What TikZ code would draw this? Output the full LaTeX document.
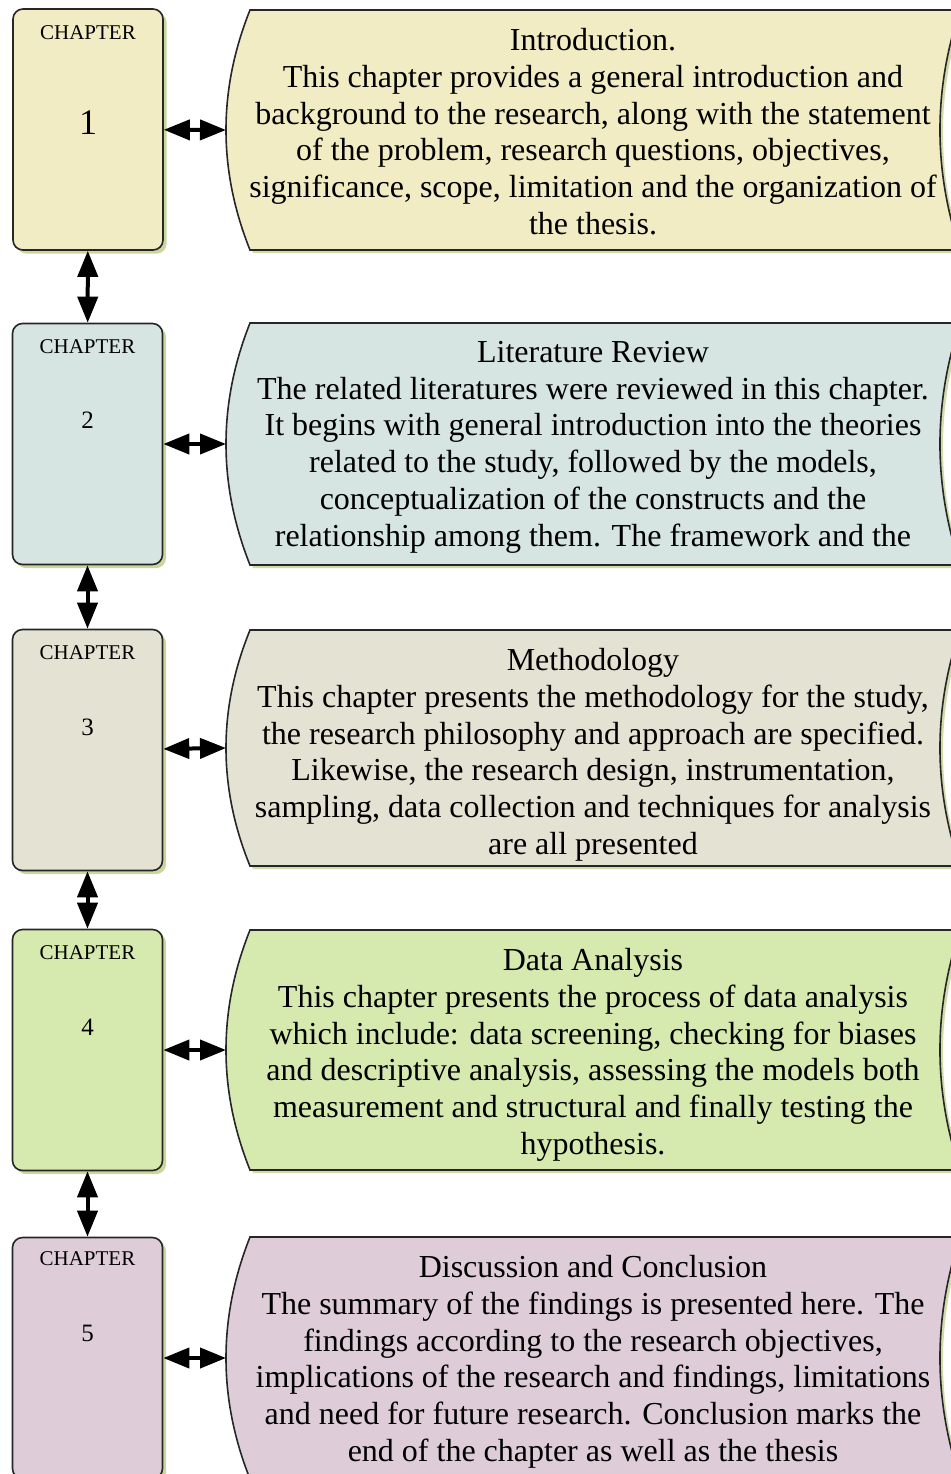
\documentclass[tikz,border=0pt]{standalone}
\usepackage{fontspec}
\setmainfont{Liberation Serif}
\usepackage{xcolor}
\usetikzlibrary{arrows.meta,shadows}

\definecolor{introfill}{HTML}{F2ECC4}
\definecolor{litfill}{HTML}{D6E5E1}
\definecolor{methfill}{HTML}{E4E2D3}
\definecolor{datafill}{HTML}{D6EAAF}
\definecolor{discfill}{HTML}{DECDD9}
\definecolor{shadefill}{HTML}{C3D293}

\begin{document}
\begin{tikzpicture}[
x=0.5pt, y=-0.5pt,
chapter/.style={draw=black!85, line width=0.8pt, rounded corners=5pt, minimum width=75pt, minimum height=120.5pt, drop shadow={shadow xshift=1.8pt, shadow yshift=-1.8pt, fill=shadefill, opacity=0.9}},
summary/.style={draw=black!85, line width=0.8pt, drop shadow={shadow xshift=1.5pt, shadow yshift=-1.5pt, fill=shadefill, opacity=0.8}},
tag/.style={font=\fontsize{10.5pt}{12pt}\selectfont, inner sep=0pt},
num/.style={font=\fontsize{12.5pt}{14pt}\selectfont, inner sep=0pt},
body/.style={anchor=north, align=center, font=\fontsize{16pt}{18.35pt}\selectfont, inner sep=0pt},
arrow/.style={{Triangle[length=13pt 0,width=10pt 0]}-{Triangle[length=13pt 0,width=10pt 0]}, line width=2pt}
]
\useasboundingbox (0,0) rectangle (951,1474);

% chapter boxes
\node[chapter, fill=introfill] (ch1) at (88,129.5) {};
\node[chapter, fill=litfill] (ch2) at (87.5,444) {};
\node[chapter, fill=methfill] (ch3) at (87.5,750) {};
\node[chapter, fill=datafill] (ch4) at (87.5,1050) {};
\node[chapter, fill=discfill] (ch5) at (87.5,1358) {};

\node[tag] (ch1t) at (88,33) {CHAPTER};
\node[num, font=\fontsize{18pt}{20pt}\selectfont] (ch1n) at (88,123) {1};
\node[tag] (ch2t) at (87.5,347) {CHAPTER};
\node[num] (ch2n) at (87.5,420) {2};
\node[tag] (ch3t) at (87.5,653) {CHAPTER};
\node[num] (ch3n) at (87.5,727) {3};
\node[tag] (ch4t) at (87.5,953) {CHAPTER};
\node[num] (ch4n) at (87.5,1027) {4};
\node[tag] (ch5t) at (87.5,1259) {CHAPTER};
\node[num] (ch5n) at (87.5,1333) {5};

% summary shapes
\draw[summary, fill=introfill] (250,10) -- (960,10) .. controls (933.3,90) and (933.3,170) .. (960,250) -- (250,250) .. controls (218,170) and (218,90) .. (250,10) -- cycle;
\draw[summary, fill=litfill] (250,323) -- (960,323) .. controls (933.3,403.7) and (933.3,484.3) .. (960,565) -- (250,565) .. controls (218,484.3) and (218,403.7) .. (250,323) -- cycle;
\draw[summary, fill=methfill] (250,630) -- (960,630) .. controls (933.3,708.7) and (933.3,787.3) .. (960,866) -- (250,866) .. controls (218,787.3) and (218,708.7) .. (250,630) -- cycle;
\draw[summary, fill=datafill] (250,930) -- (960,930) .. controls (933.3,1010) and (933.3,1090) .. (960,1170) -- (250,1170) .. controls (218,1090) and (218,1010) .. (250,930) -- cycle;
\draw[summary, fill=discfill] (250,1237) -- (960,1237) .. controls (933.3,1317.7) and (933.3,1398.3) .. (960,1479) -- (250,1479) .. controls (218,1398.3) and (218,1317.7) .. (250,1237) -- cycle;

\coordinate (s1) at (226,130);
\coordinate (s2) at (226,444);
\coordinate (s3) at (226,748);
\coordinate (s4) at (226,1050);
\coordinate (s5) at (226,1358);

\node[body] (intro) at (593,28) {Introduction.\\This chapter provides a general introduction and\\background to the research, along with the statement\\of the problem, research questions, objectives,\\significance, scope, limitation and the organization of\\the thesis.};
\node[body] (lit) at (593,341) {Literature Review\\The related literatures were reviewed in this chapter.\\It begins with general introduction into the theories\\related to the study, followed by the models,\\conceptualization of the constructs and the\\relationship among them. The framework and the};
\node[body] (meth) at (593,648) {Methodology\\This chapter presents the methodology for the study,\\the research philosophy and approach are specified.\\Likewise, the research design, instrumentation,\\sampling, data collection and techniques for analysis\\are all presented};
\node[body] (data) at (593,948) {Data Analysis\\This chapter presents the process of data analysis\\which include: data screening, checking for biases\\and descriptive analysis, assessing the models both\\measurement and structural and finally testing the\\hypothesis.};
\node[body] (disc) at (593,1255) {Discussion and Conclusion\\The summary of the findings is presented here. The\\findings according to the research objectives,\\implications of the research and findings, limitations\\and need for future research. Conclusion marks the\\end of the chapter as well as the thesis};

% arrows
\draw[arrow] (ch1) -- (ch2);
\draw[arrow] (ch2) -- (ch3);
\draw[arrow] (ch3) -- (ch4);
\draw[arrow] (ch4) -- (ch5);
\draw[arrow] (ch1) -- (s1);
\draw[arrow] (ch2) -- (s2);
\draw[arrow] (ch3) -- (s3);
\draw[arrow] (ch4) -- (s4);
\draw[arrow] (ch5) -- (s5);
\end{tikzpicture}
\end{document}
